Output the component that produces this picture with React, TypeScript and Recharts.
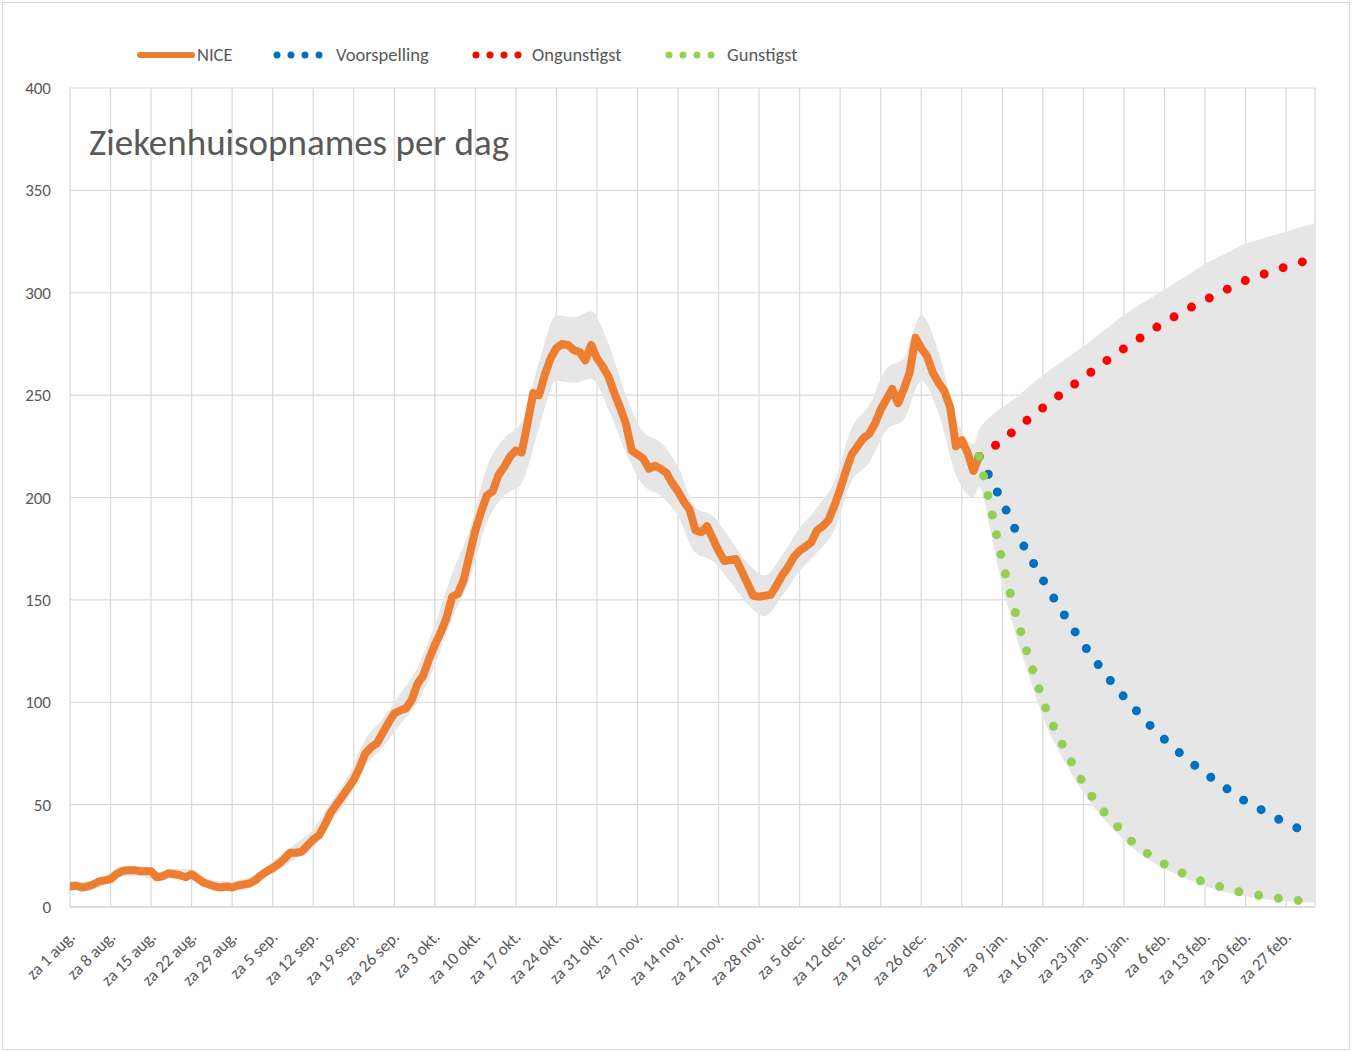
import React from 'react';
import { ComposedChart, Line, Area, XAxis, YAxis, CartesianGrid } from 'recharts';

// weekly tick labels, day 0 = za 1 aug.
const tickLabels = [
    'za 1 aug.', 'za 8 aug.', 'za 15 aug.', 'za 22 aug.', 'za 29 aug.',
    'za 5 sep.', 'za 12 sep.', 'za 19 sep.', 'za 26 sep.',
    'za 3 okt.', 'za 10 okt.', 'za 17 okt.', 'za 24 okt.', 'za 31 okt.',
    'za 7 nov.', 'za 14 nov.', 'za 21 nov.', 'za 28 nov.',
    'za 5 dec.', 'za 12 dec.', 'za 19 dec.', 'za 26 dec.',
    'za 2 jan.', 'za 9 jan.', 'za 16 jan.', 'za 23 jan.', 'za 30 jan.',
    'za 6 feb.', 'za 13 feb.', 'za 20 feb.', 'za 27 feb.',
];
const tickDays = tickLabels.map((_, i) => i * 7);
const yTicks = [0, 50, 100, 150, 200, 250, 300, 350, 400];

// NICE, one value per day from 1 aug.
const niceValues = [
    10, 10.5, 9.5, 10, 11, 12.5, 13, 13.5, 16, 17.5,
    18, 18, 17.5, 17.5, 17.5, 14.5, 15, 16.5, 16, 15.5,
    14.5, 16, 14, 12, 11, 10, 9.5, 10, 9.5, 10.5,
    11, 11.5, 13, 15.5, 17.5, 19, 21, 23.5, 26.5, 26.5,
    27, 30, 33, 35, 40, 46, 50, 54, 58, 62,
    68, 75, 78, 80, 85, 90, 94.5, 96, 97, 101,
    109, 113, 121, 128, 134, 141, 151.5, 153, 160, 172,
    184, 193, 201, 203, 211, 215, 220, 223, 222, 236,
    251, 250, 260, 268, 273, 275, 274.5, 272, 271, 267,
    274.5, 268, 264, 259, 251, 244, 236, 223, 221, 219,
    214, 215.5, 214, 212, 207, 203, 198, 194, 184, 183,
    186, 180, 174, 169, 169.5, 170, 164, 158, 152, 151.5,
    152, 152.5, 157, 162, 166, 171, 174, 176, 178, 184,
    186, 189, 196, 204, 213, 221, 225, 229, 231, 236,
    243, 248, 253, 246, 253, 261, 278, 273, 269, 261,
    256, 252, 244, 225, 228, 222, 213, 220,
];

// grey band around NICE (every 3 days)
const histBandDays = [
    0, 3, 6, 9, 12, 15, 18, 21, 24, 27, 30, 33, 36, 39, 42, 45, 48, 51, 54, 57,
    60, 63, 66, 69, 72, 75, 78, 81, 84, 87, 90, 93, 96, 99, 102, 105, 108, 111, 114, 117,
    120, 123, 126, 129, 132, 135, 138, 141, 144, 147, 150, 153, 156,
];
const histBandLow = [
    8, 8, 11, 15, 15, 12.5, 14, 14, 9, 8, 9, 13.5, 18, 23.5, 29, 41, 53, 69, 78, 89,
    100, 118, 141, 160, 188, 201, 207, 234, 257, 256, 258, 243, 222, 206, 201, 191, 173, 169, 159, 148,
    142, 152, 164, 173, 184, 208, 217, 233, 238, 257, 241, 211, 200,
];
const histBandHigh = [
    12.5, 12.5, 15.5, 20, 20, 17, 18.5, 18.5, 13.5, 12.5, 13.5, 18, 24.5, 31, 38, 51, 64, 82, 92, 104,
    117, 138, 163, 184, 215, 229, 237, 266, 289, 288, 291, 275, 250, 232, 227, 215, 195, 191, 180, 168,
    162, 172, 185, 195, 208, 234, 245, 263, 268, 289, 271, 239, 226,
];

// forecasts (every 2 days from 6 jan.)
const forecastDays = [
    157, 159, 161, 163, 165, 167, 169, 171, 173, 175, 177, 179, 181, 183, 185,
    187, 189, 191, 193, 195, 197, 199, 201, 203, 205, 207, 209, 211, 213, 215,
];
const voorspelling = [
    220, 209, 197.8, 185.7, 174.8, 164.9, 155, 145.8, 136.9, 128.3, 120.5, 113, 106, 99.5, 93.3,
    87.3, 81.9, 76.8, 72, 67.5, 63.4, 59.3, 55.4, 51.6, 48.6, 45.5, 42.5, 39.8, 37.2, 35,
];
const ongunstigst = [
    220, 223.7, 228.2, 232.5, 237.1, 241.6, 245.9, 250.2, 254.4, 258.5, 262.6, 266.8, 270.8, 274.7, 278.3,
    282, 285.5, 288.8, 292, 294.9, 297.8, 300.6, 303.3, 306, 307.9, 309.9, 311.8, 313.6, 315.2, 316.6,
];
const gunstigst = [
    220, 195, 169, 146.5, 127, 109.5, 93.5, 81.5, 70.5, 60.5, 52, 45, 39, 33, 28.3,
    24.4, 20.9, 18, 15.4, 13, 11.2, 9.6, 8, 6.8, 5.8, 4.9, 4.1, 3.5, 3, 2.6,
];
const forecastBandLow = [
    205, 183, 157, 136, 118, 101, 86, 75, 65, 56, 48, 41.5, 35.5, 30, 25.5,
    22, 18.8, 16, 13.5, 11.3, 9.3, 7.6, 6.3, 5.2, 4.3, 3.6, 3, 2.6, 2.3, 2,
];
const forecastBandHigh = [
    233, 239.7, 243.9, 248, 252.8, 257.5, 261.8, 265.8, 269.8, 273.8, 278.2, 282.6, 287, 291, 294.6,
    298.1, 301.6, 305.1, 308.7, 312.2, 315.5, 318.3, 321.1, 324, 325.7, 327.4, 329, 330.7, 332.5, 334,
];

const FONT = 'Calibri, Carlito, Lato, sans-serif';
const TEXT = '#595959';

const niceData = niceValues.map((v, i) => ({ day: i, v }));
const bandData = [
    ...histBandDays.map((d, i) => ({ day: d, range: [histBandLow[i], histBandHigh[i]] })),
    ...forecastDays.map((d, i) => ({ day: d, range: [forecastBandLow[i], forecastBandHigh[i]] })),
];
const voorData = forecastDays.map((d, i) => ({ day: d, v: voorspelling[i] }));
const ongData = forecastDays.map((d, i) => ({ day: d, v: ongunstigst[i] }));
const gunData = forecastDays.map((d, i) => ({ day: d, v: gunstigst[i] }));

function DateTick(props: any) {
    const { x, y, payload } = props;
    const label = tickLabels[Math.round(payload.value / 7)];
    return (
        <g transform={`translate(${x + 6},${y + 23}) rotate(-45)`}>
            <text x={0} y={0} textAnchor="end" fill={TEXT} fontSize={17} fontFamily={FONT}>{label}</text>
        </g>
    );
}

const legendItems = [
    { name: 'Voorspelling', color: '#0070C0', x: 277, tx: 336 },
    { name: 'Ongunstigst', color: '#FF0000', x: 476, tx: 532 },
    { name: 'Gunstigst', color: '#92D050', x: 669, tx: 727 },
];

export default function App() {
    return (
        <div style={{ position: 'absolute', left: 0, top: 0, width: 1352, height: 1052, background: '#fff', fontFamily: FONT }}>
            <div style={{ position: 'absolute', left: 2, top: 2, width: 1346, height: 1046, border: '1px solid #d9d9d9' }} />
            <div style={{ position: 'absolute', left: 0, top: 0 }}>
                <ComposedChart width={1352} height={1052} margin={{ top: 88, right: 37, left: 0, bottom: 0 }}>
                    <CartesianGrid stroke="#d9d9d9" strokeWidth={1.2} />
                    <XAxis
                        type="number"
                        dataKey="day"
                        domain={[0, 215]}
                        ticks={tickDays}
                        interval={0}
                        height={145}
                        tickLine={false}
                        axisLine={{ stroke: '#d9d9d9', strokeWidth: 1.5 }}
                        tick={<DateTick />}
                        allowDataOverflow
                    />
                    <YAxis
                        domain={[0, 400]}
                        ticks={yTicks}
                        width={70}
                        axisLine={false}
                        tickLine={false}
                        tickMargin={13}
                        tick={{ fill: TEXT, fontSize: 17, fontFamily: FONT }}
                    />
                    <Area data={bandData} dataKey="range" type="monotone" stroke="none" fill="#e6e6e6" fillOpacity={1} isAnimationActive={false} />
                    <Line data={niceData} dataKey="v" type="linear" stroke="#ED7D31" strokeWidth={8} strokeLinejoin="round" strokeLinecap="round" dot={false} isAnimationActive={false} />
                    <Line data={ongData} dataKey="v" type="monotone" stroke="#FF0000" strokeWidth={9} strokeDasharray="0 20" strokeLinecap="round" dot={false} isAnimationActive={false} />
                    <Line data={voorData} dataKey="v" type="monotone" stroke="#0070C0" strokeWidth={9} strokeDasharray="0 20" strokeLinecap="round" dot={false} isAnimationActive={false} />
                    <Line data={gunData} dataKey="v" type="monotone" stroke="#92D050" strokeWidth={9} strokeDasharray="0 20" strokeLinecap="round" dot={false} isAnimationActive={false} />
                </ComposedChart>
            </div>
            <svg width={1352} height={200} style={{ position: 'absolute', left: 0, top: 0, pointerEvents: 'none' }}>
                <line x1={140} x2={192} y1={55} y2={55} stroke="#ED7D31" strokeWidth={6} strokeLinecap="round" />
                <text x={197} y={61} fontSize={18.5} fill={TEXT} fontFamily={FONT}>NICE</text>
                {legendItems.map((it) => (
                    <g key={it.name}>
                        {[0, 1, 2, 3].map((k) => (
                            <circle key={k} cx={it.x + k * 14} cy={55} r={3.5} fill={it.color} />
                        ))}
                        <text x={it.tx} y={61} fontSize={18.5} fill={TEXT} fontFamily={FONT}>{it.name}</text>
                    </g>
                ))}
                <text x={89} y={155} fontSize={37} fill={TEXT} fontFamily={FONT}>Ziekenhuisopnames per dag</text>
            </svg>
        </div>
    );
}
